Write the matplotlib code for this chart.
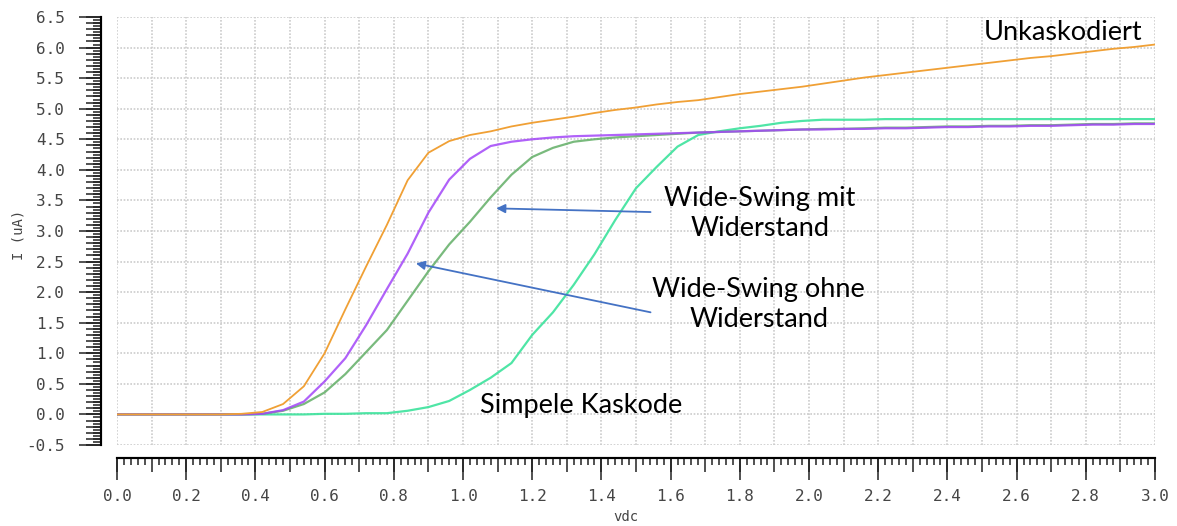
from __future__ import annotations

import matplotlib

matplotlib.use("Agg")

import matplotlib.pyplot as plt
from matplotlib.ticker import FormatStrFormatter, MultipleLocator, NullLocator

# dc sweep, 0.06 V steps
vdc = [
    0.00, 0.06, 0.12, 0.18, 0.24, 0.30, 0.36, 0.42, 0.48, 0.54,
    0.60, 0.66, 0.72, 0.78, 0.84, 0.90, 0.96, 1.02, 1.08, 1.14,
    1.20, 1.26, 1.32, 1.38, 1.44, 1.50, 1.56, 1.62, 1.68, 1.74,
    1.80, 1.86, 1.92, 1.98, 2.04, 2.10, 2.16, 2.22, 2.28, 2.34,
    2.40, 2.46, 2.52, 2.58, 2.64, 2.70, 2.76, 2.82, 2.88, 2.94,
    3.00,
]

i_unkaskodiert = [
    0.00, 0.00, 0.00, 0.00, 0.00, 0.00, 0.01, 0.04, 0.17, 0.46,
    1.00, 1.72, 2.42, 3.10, 3.83, 4.28, 4.47, 4.57, 4.63, 4.71,
    4.77, 4.82, 4.87, 4.93, 4.98, 5.02, 5.07, 5.11, 5.14, 5.19,
    5.24, 5.28, 5.32, 5.36, 5.41, 5.46, 5.51, 5.55, 5.59, 5.63,
    5.67, 5.71, 5.75, 5.79, 5.83, 5.86, 5.90, 5.94, 5.98, 6.01,
    6.05,
]

i_ws_ohne = [
    0.00, 0.00, 0.00, 0.00, 0.00, 0.00, 0.00, 0.01, 0.07, 0.21,
    0.54, 0.92, 1.46, 2.05, 2.63, 3.30, 3.84, 4.18, 4.39, 4.46,
    4.50, 4.53, 4.55, 4.56, 4.57, 4.58, 4.59, 4.60, 4.61, 4.62,
    4.63, 4.64, 4.65, 4.66, 4.66, 4.67, 4.67, 4.68, 4.68, 4.69,
    4.70, 4.70, 4.71, 4.71, 4.72, 4.72, 4.73, 4.74, 4.74, 4.75,
    4.75,
]

i_ws_mit = [
    0.00, 0.00, 0.00, 0.00, 0.00, 0.00, 0.00, 0.01, 0.06, 0.17,
    0.36, 0.66, 1.02, 1.38, 1.86, 2.34, 2.78, 3.15, 3.55, 3.92,
    4.21, 4.36, 4.46, 4.50, 4.53, 4.55, 4.57, 4.59, 4.61, 4.62,
    4.63, 4.64, 4.65, 4.66, 4.67, 4.67, 4.68, 4.69, 4.69, 4.70,
    4.71, 4.71, 4.72, 4.72, 4.73, 4.73, 4.74, 4.75, 4.75, 4.76,
    4.76,
]

i_simpel = [
    0.00, 0.00, 0.00, 0.00, 0.00, 0.00, 0.00, 0.00, 0.00, 0.00,
    0.01, 0.01, 0.02, 0.02, 0.06, 0.12, 0.22, 0.40, 0.60, 0.84,
    1.30, 1.67, 2.12, 2.62, 3.18, 3.70, 4.05, 4.38, 4.57, 4.63,
    4.68, 4.72, 4.77, 4.80, 4.82, 4.82, 4.82, 4.83, 4.83, 4.83,
    4.83, 4.83, 4.83, 4.83, 4.83, 4.83, 4.83, 4.83, 4.83, 4.83,
    4.83,
]

TICK_FONT = "DejaVu Sans Mono"
NOTE_FONT = "Lato"
GREY = "#454545"
ARROW = "#4472C4"


def main() -> int:
    fig = plt.figure(figsize=(11.77, 5.26), dpi=100)
    fig.patch.set_facecolor("white")
    ax = fig.add_axes([117 / 1177, 1 - 445 / 526, 1038 / 1177, 428 / 526])

    ax.plot(vdc, i_simpel, color="#3CE39C", lw=1.6, alpha=0.9)
    ax.plot(vdc, i_ws_mit, color="#62AE66", lw=1.6, alpha=0.85)
    ax.plot(vdc, i_ws_ohne, color="#A346F8", lw=1.6, alpha=0.85)
    ax.plot(vdc, i_unkaskodiert, color="#F0A035", lw=1.3)

    ax.set_xlim(0, 3.0)
    ax.set_ylim(-0.5, 6.5)
    ax.set_axisbelow(True)

    for side in ("top", "right"):
        ax.spines[side].set_visible(False)
    ax.spines["left"].set_position(("outward", 11.5))
    ax.spines["bottom"].set_position(("outward", 9.4))
    ax.spines["left"].set_linewidth(1.5)
    ax.spines["bottom"].set_linewidth(1.5)

    # x ruler: 0.1 ticks + grid on main axis, 0.02 minor, labelled 0.2 on secondary
    ax.xaxis.set_major_locator(MultipleLocator(0.1))
    ax.xaxis.set_minor_locator(MultipleLocator(0.02))
    ax.tick_params(axis="x", which="major", length=10, width=1.1,
                   color="#222222", labelbottom=False)
    ax.tick_params(axis="x", which="minor", length=5, width=1.1, color="#222222")

    ax.yaxis.set_major_locator(MultipleLocator(0.5))
    ax.yaxis.set_minor_locator(MultipleLocator(0.05))
    ax.yaxis.set_major_formatter(FormatStrFormatter("%.1f"))
    ax.tick_params(axis="y", which="major", length=16, width=1.1, color="#222222",
                   pad=10, labelsize=11.5, labelcolor=GREY)
    ax.tick_params(axis="y", which="minor", length=5.8, width=1.1, color="#222222")
    for lab in ax.get_yticklabels():
        lab.set_family(TICK_FONT)

    ax.grid(True, which="major", color="#cccccc", linestyle=(0, (1, 1)), lw=1.2)

    secx = ax.secondary_xaxis("bottom")
    secx.spines["bottom"].set_position(("outward", 9.4))
    secx.spines["bottom"].set_linewidth(1.5)
    secx.xaxis.set_major_locator(MultipleLocator(0.2))
    secx.xaxis.set_minor_locator(NullLocator())
    secx.xaxis.set_major_formatter(FormatStrFormatter("%.1f"))
    secx.tick_params(axis="x", length=16, width=1.1, color="#222222", pad=6.5,
                     labelsize=11.5, labelcolor=GREY)
    for lab in secx.get_xticklabels():
        lab.set_family(TICK_FONT)

    secy = ax.secondary_yaxis("left")
    secy.spines["left"].set_position(("outward", 11.5))
    secy.spines["left"].set_linewidth(1.5)
    secy.yaxis.set_major_locator(MultipleLocator(0.1))
    secy.yaxis.set_minor_locator(NullLocator())
    secy.tick_params(axis="y", length=10.8, width=1.1, color="#222222", labelleft=False)

    ax.set_xlabel("vdc", family=TICK_FONT, fontsize=10, color=GREY)
    ax.xaxis.set_label_coords(0.49, -0.152)
    ax.set_ylabel("I (uA)", family=TICK_FONT, fontsize=10, color=GREY)
    ax.yaxis.set_label_coords(-0.088, 0.49)

    note = dict(family=NOTE_FONT, fontsize=19.5, color="black", ha="center",
                va="center", linespacing=1.25)
    ax.text(2.733, 6.24, "Unkaskodiert", **note)
    ax.text(1.858, 3.28, "Wide-Swing mit\nWiderstand", **note)
    ax.text(1.855, 1.80, "Wide-Swing ohne\nWiderstand", **note)
    ax.text(1.342, 0.15, "Simpele Kaskode", **note)

    arrow = dict(arrowstyle="-|>", color=ARROW, lw=1.3, mutation_scale=13,
                 shrinkA=0, shrinkB=0)
    ax.annotate("", xy=(1.096, 3.37), xytext=(1.542, 3.31), arrowprops=arrow)
    ax.annotate("", xy=(0.864, 2.47), xytext=(1.542, 1.67), arrowprops=arrow)

    fig.savefig("out.png", dpi=100)
    plt.close(fig)
    return 0


if __name__ == "__main__":
    raise SystemExit(main())
